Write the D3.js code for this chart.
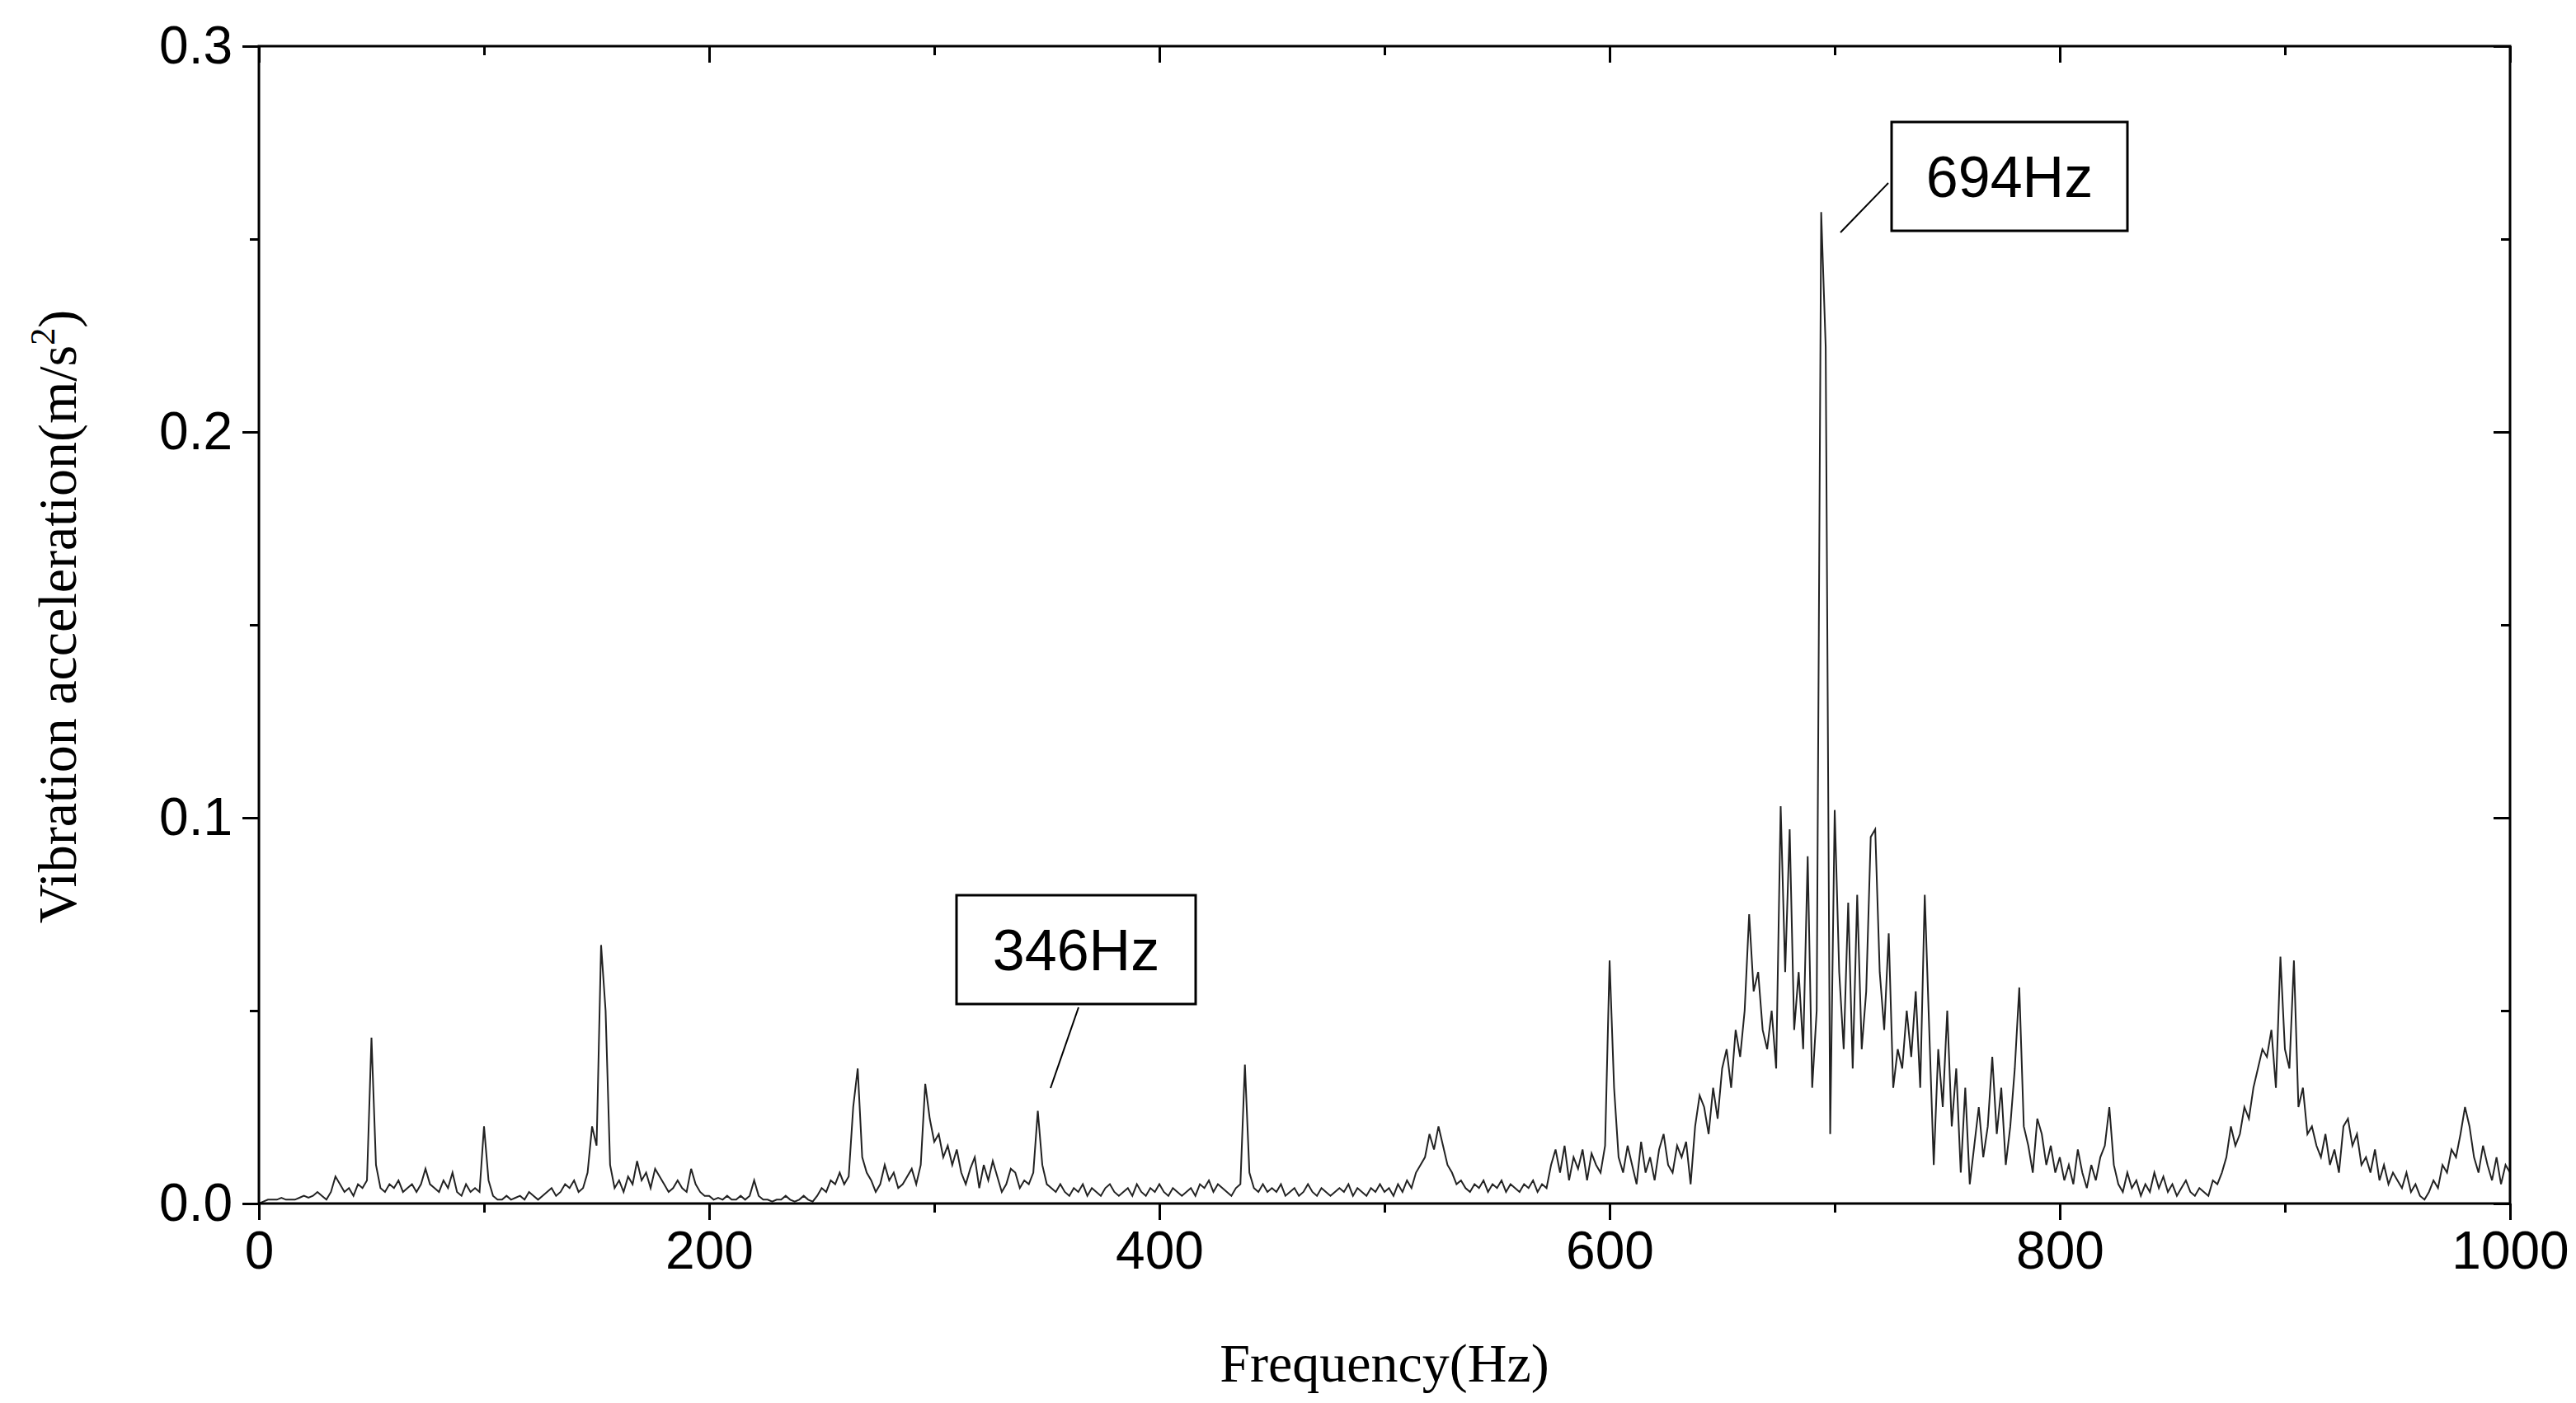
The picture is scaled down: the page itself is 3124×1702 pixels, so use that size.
<!DOCTYPE html>
<html><head><meta charset="utf-8">
<script src="https://cdn.jsdelivr.net/npm/d3@7"></script>
<style>body{margin:0;background:#fff}</style></head>
<body><svg id="c" width="3124" height="1702"></svg>
<script>
const freqStep = 2;
const amplitudes = [ // units: 0.001 m/s^2, every 2 Hz from 0
0,0.5,1,1,1,1.5,1,1,1,1.5,2,1.5,2,3,2,1,3,7,5,3,4,2,5,4,6,
43,10,4,3,5,4,6,3,4,5,3,5,9,5,4,3,6,4,8,3,2,5,3,4,3,
20,6,2,1,1,2,1,1.5,2,1,3,2,1,2,3,4,2,3,5,4,6,3,4,8,20,
15,67,50,10,4,6,3,7,5,11,6,8,4,9,7,5,3,4,6,4,3,9,5,3,2,
2,1,1.5,1,2,1,1,2,1,2,6,2,1,1,0.5,1,1,2,1,0.5,1,2,1,0.5,2,
4,3,6,5,8,5,7,25,35,12,8,6,3,5,10,6,8,4,5,7,9,5,10,31,22,
16,18,12,15,10,14,8,5,9,12,4,10,6,11,7,3,5,9,8,4,6,5,8,24,10,
5,4,3,5,3,2,4,3,5,2,4,3,2,4,5,3,2,3,4,2,5,3,2,4,3,
5,3,2,4,3,2,3,4,2,5,4,6,3,5,4,3,2,4,5,36,8,4,3,5,3,
4,3,5,2,3,4,2,3,5,3,2,4,3,2,3,4,3,5,2,4,3,2,4,3,5,
3,4,2,5,3,6,4,8,10,12,18,14,20,15,10,8,5,6,4,3,5,4,6,3,5,
4,6,3,5,4,3,5,4,6,3,5,4,10,14,8,15,6,12,9,14,6,13,10,8,15,
63,30,12,8,15,10,5,16,8,12,6,14,18,10,8,15,12,16,5,20,28,25,18,30,22,
35,40,30,45,38,50,75,55,60,45,40,50,35,103,60,97,45,60,40,90,30,50,257,222,18,
102,60,40,78,35,80,40,55,95,97,60,45,70,30,40,35,50,38,55,30,80,45,10,40,25,
50,20,35,8,30,5,15,25,12,20,38,18,30,10,20,35,56,20,15,8,22,18,10,15,8,
12,6,10,5,14,8,4,10,6,12,15,25,10,5,3,8,4,6,2,5,3,8,4,7,3,
5,2,4,6,3,2,4,3,2,6,5,8,12,20,15,18,25,22,30,35,40,38,45,30,64,
40,35,63,25,30,18,20,15,12,18,10,14,8,20,22,15,18,10,12,8,14,6,10,5,8,
6,4,8,3,5,2,1,3,6,4,10,8,14,12,18,25,20,12,8,15,10,6,12,5,10,
8];
const xTicks = [0,200,400,600,800,1000];
const yTicks = [0.0,0.1,0.2,0.3];
const annotations = [{f:694,label:"694Hz"},{f:346,label:"346Hz"}];

const data = amplitudes.map((v,i)=>({f:i*freqStep, a:v/1000}));
const svg = d3.select("#c");
const L=314,R=3044,T=56,B=1460;
const x = d3.scaleLinear().domain([0,1000]).range([L,R]);
const y = d3.scaleLinear().domain([0,0.3]).range([B,T]);

svg.append("path").datum(data)
  .attr("d", d3.line().x(d=>x(d.f)).y(d=>y(d.a)))
  .attr("fill","none").attr("stroke","#222").attr("stroke-width",2);

svg.append("rect").attr("x",L).attr("y",T).attr("width",R-L).attr("height",B-T)
  .attr("fill","none").attr("stroke","#000").attr("stroke-width",3);

const font = "Liberation Sans Narrow, Arial Narrow, Liberation Sans, Arial, sans-serif";
function axis(g, ax){ g.call(ax); g.select(".domain").remove(); g.selectAll("line").attr("stroke","#000").attr("stroke-width",3); g.selectAll("text").attr("font-family",font).attr("font-size",64).attr("fill","#000"); }
const minorX = d3.range(100,1000,200), minorY=[0.05,0.15,0.25];
svg.append("g").attr("transform",`translate(0,${B})`).call(g=>axis(g,d3.axisBottom(x).tickValues(xTicks).tickSize(20).tickPadding(14).tickFormat(d3.format("d"))));
svg.append("g").attr("transform",`translate(0,${B})`).call(g=>axis(g,d3.axisBottom(x).tickValues(minorX).tickSize(11).tickFormat("")));
svg.append("g").attr("transform",`translate(0,${T})`).call(g=>axis(g,d3.axisBottom(x).tickValues(xTicks).tickSize(20).tickFormat("")));
svg.append("g").attr("transform",`translate(0,${T})`).call(g=>axis(g,d3.axisBottom(x).tickValues(minorX).tickSize(11).tickFormat("")));
svg.append("g").attr("transform",`translate(${L},0)`).call(g=>axis(g,d3.axisLeft(y).tickValues(yTicks).tickSize(20).tickPadding(12).tickFormat(d3.format(".1f"))));
svg.append("g").attr("transform",`translate(${L},0)`).call(g=>axis(g,d3.axisLeft(y).tickValues(minorY).tickSize(11).tickFormat("")));
svg.append("g").attr("transform",`translate(${R},0)`).call(g=>axis(g,d3.axisLeft(y).tickValues(yTicks).tickSize(20).tickFormat("")));
svg.append("g").attr("transform",`translate(${R},0)`).call(g=>axis(g,d3.axisLeft(y).tickValues(minorY).tickSize(11).tickFormat("")));

const serif = "Liberation Serif, Times New Roman, serif";
svg.append("text").attr("x",(L+R)/2).attr("y",1676).attr("text-anchor","middle")
  .attr("font-family",serif).attr("font-size",66).text("Frequency(Hz)");
const yl = svg.append("text").attr("transform",`translate(92,${(T+B)/2 - 10}) rotate(-90)`).attr("text-anchor","middle")
  .attr("font-family",serif).attr("font-size",66);
yl.append("tspan").text("Vibration acceleration(m/s");
yl.append("tspan").attr("font-size",42).attr("dy",-26).text("2");
yl.append("tspan").attr("dy",26).text(")");

const ann = [
  {line:[[2232,282],[2290,222]], box:[2294,148,286,132]},
  {line:[[1274,1320],[1308,1222]], box:[1160,1086,290,132]}
];
annotations.forEach((a,i)=>{
  const b = ann[i].box;
  svg.append("line").attr("x1",ann[i].line[0][0]).attr("y1",ann[i].line[0][1]).attr("x2",ann[i].line[1][0]).attr("y2",ann[i].line[1][1]).attr("stroke","#000").attr("stroke-width",2);
  svg.append("rect").attr("x",b[0]).attr("y",b[1]).attr("width",b[2]).attr("height",b[3]).attr("fill","#fff").attr("stroke","#000").attr("stroke-width",3);
  svg.append("text").attr("x",b[0]+b[2]/2).attr("y",b[1]+b[3]/2+25).attr("text-anchor","middle").attr("font-family",font).attr("font-size",70).text(a.label);
});
</script></body></html>
